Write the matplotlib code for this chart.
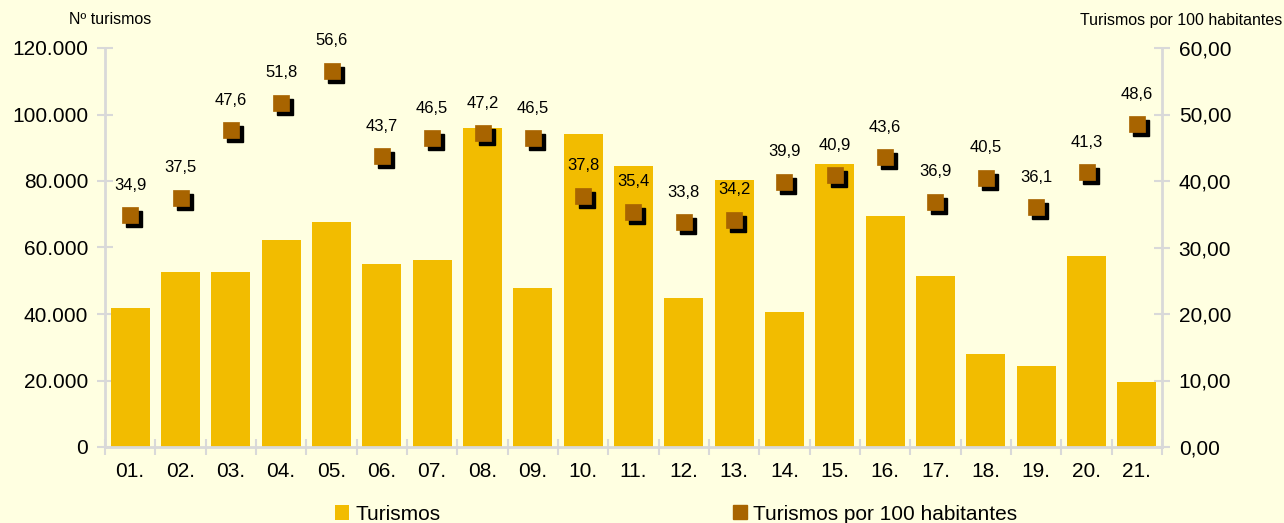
import matplotlib
matplotlib.use("Agg")
import matplotlib.pyplot as plt
import matplotlib.transforms as mtransforms
from matplotlib.patches import Patch
from matplotlib.lines import Line2D
from matplotlib.ticker import FuncFormatter, MultipleLocator

plt.rcParams['font.family'] = ['Liberation Sans', 'DejaVu Sans']

categories = ["01.", "02.", "03.", "04.", "05.", "06.", "07.", "08.", "09.", "10.", "11.",
              "12.", "13.", "14.", "15.", "16.", "17.", "18.", "19.", "20.", "21."]
turismos = [41800, 52600, 52600, 62200, 67600, 55000, 56200, 95900, 47800, 94100, 84500,
            44800, 80300, 40600, 85100, 69400, 51400, 28000, 24300, 57400, 19500]
por_100 = [34.9, 37.5, 47.6, 51.8, 56.6, 43.7, 46.5, 47.2, 46.5, 37.8, 35.4,
           33.8, 34.2, 39.9, 40.9, 43.6, 36.9, 40.5, 36.1, 41.3, 48.6]

BG = "#FFFFE1"
BAR = "#F2BC00"
MARK = "#A86400"
GRAY = "#D9D9D9"

fig = plt.figure(figsize=(12.84, 5.23), dpi=100, facecolor=BG)
ax = fig.add_axes([105/1284, 1-447/523, (1162-105)/1284, (447-48)/523])
ax.set_facecolor(BG)
x = list(range(len(categories)))
ax.bar(x, turismos, width=0.78, color=BAR, zorder=2)
ax.set_xlim(-0.5, len(categories)-0.5)
ax.set_ylim(0, 120000)

ax2 = ax.twinx()
ax2.set_ylim(0, 60)
shadow_tr = mtransforms.offset_copy(ax2.transData, fig=fig, x=4, y=-4, units='dots')
ax2.plot(x, por_100, ls='none', marker='s', ms=11.5, mfc='black', mec='black',
         transform=shadow_tr, zorder=3)
ax2.plot(x, por_100, ls='none', marker='s', ms=11.5, mfc=MARK, mec=MARK, mew=0.5, zorder=4)
for xi, v in zip(x, por_100):
    ax2.annotate(f"{v:.1f}".replace('.', ','), (xi, v), xytext=(0, 16), textcoords='offset points',
                 ha='center', va='bottom', fontsize=12, color='black', zorder=5)

for a in (ax, ax2):
    for s in a.spines.values():
        s.set_visible(False)
ax.spines['left'].set_visible(True)
ax.spines['bottom'].set_visible(True)
ax2.spines['right'].set_visible(True)
for s in (ax.spines['left'], ax.spines['bottom'], ax2.spines['right']):
    s.set_color(GRAY)
    s.set_linewidth(2)

ax.yaxis.set_major_locator(MultipleLocator(20000))
ax.yaxis.set_major_formatter(FuncFormatter(lambda v, p: f"{int(v):,}".replace(',', '.')))
ax2.yaxis.set_major_locator(MultipleLocator(10))
ax2.yaxis.set_major_formatter(FuncFormatter(lambda v, p: f"{v:.2f}".replace('.', ',')))
ax.tick_params(axis='y', direction='inout', length=12, width=1.5, color=GRAY, labelsize=15, pad=6)
ax2.tick_params(axis='y', direction='inout', length=12, width=1.5, color=GRAY, labelsize=15, pad=6)

ax.set_xticks(x)
ax.set_xticklabels(categories)
ax.set_xticks([i - 0.5 for i in range(len(categories)+1)], minor=True)
ax.tick_params(axis='x', which='major', length=0, labelsize=15, pad=11)
ax.tick_params(axis='x', which='minor', direction='inout', length=12, width=1.5, color=GRAY)

fig.text(110/1284, 1-20/523, "Nº turismos", ha='center', va='center', fontsize=11.5)
fig.text(1282/1284, 1-20/523, "Turismos por 100 habitantes", ha='right', va='center', fontsize=11.5)

handles = [Patch(facecolor=BAR, edgecolor='none'),
           Line2D([], [], ls='none', marker='s', ms=10, mfc=MARK, mec=MARK)]
leg = fig.legend(handles, ["Turismos", "Turismos por 100 habitantes"], loc='center',
                 bbox_to_anchor=(676/1284, 1-514/523), ncol=2, frameon=False, fontsize=15,
                 handlelength=0.7, handleheight=0.7, handletextpad=0.3, columnspacing=14)

fig.savefig("out.png", dpi=100, facecolor=BG)
